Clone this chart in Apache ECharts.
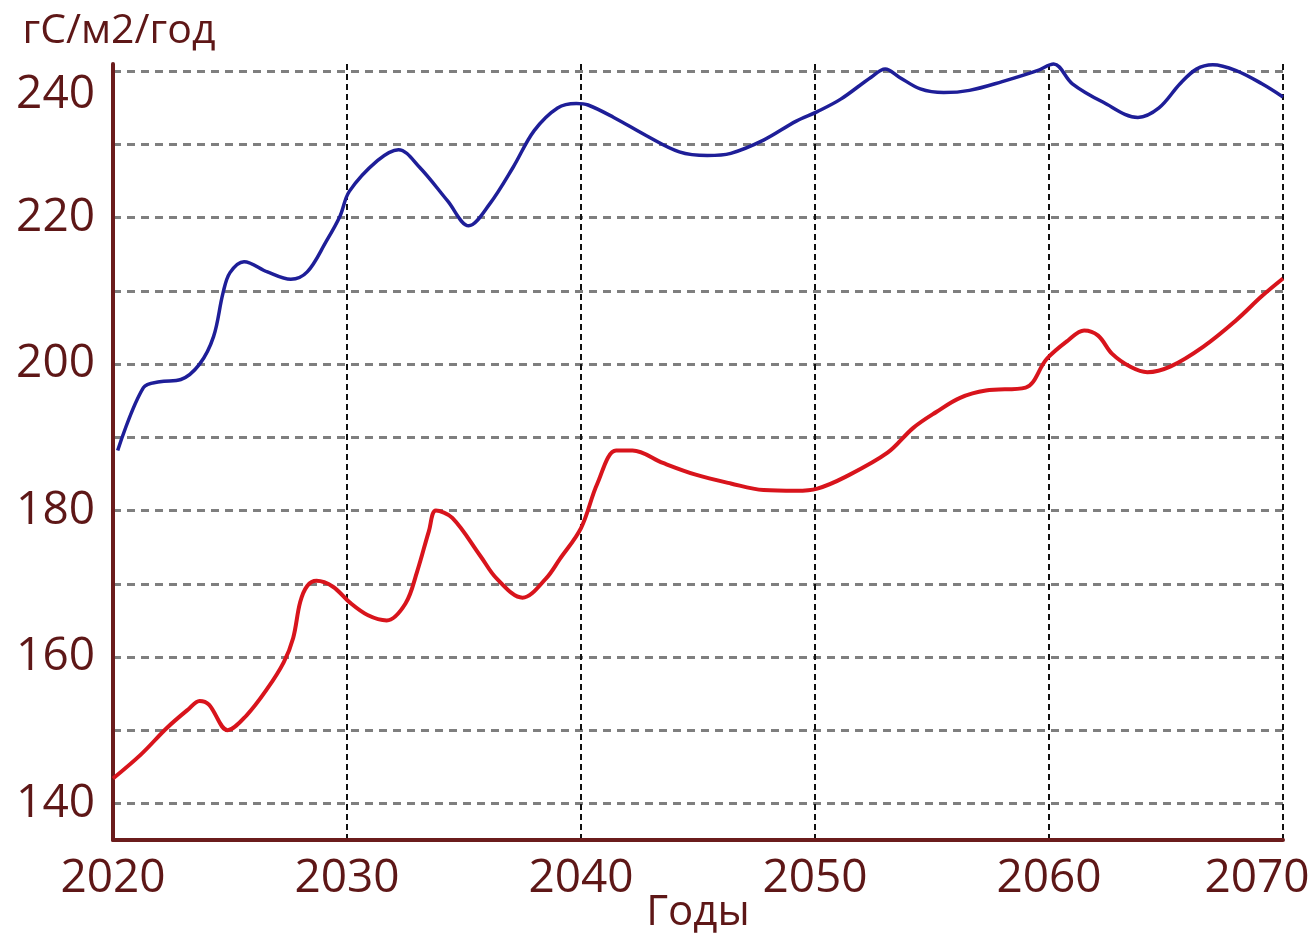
<!DOCTYPE html>
<html>
<head>
<meta charset="utf-8">
<script src="https://cdn.jsdelivr.net/npm/echarts@6/dist/echarts.min.js"></script>
<style>
  html, body { margin: 0; padding: 0; background: #ffffff; }
  #chart { width: 1316px; height: 941px; }
</style>
</head>
<body>
<div id="chart"></div>
<script>
// Annual productivity, gC/m2/year, two scenarios 2020–2070
const upperYears = [2020.2, 2021.3, 2022.0, 2022.9, 2023.7, 2024.3, 2024.7, 2025.0, 2025.6, 2026.6,
  2027.6, 2028.3, 2029.1, 2029.7, 2030.1, 2031.3, 2032.2, 2033.1, 2034.3, 2035.2,
  2036.1, 2037.1, 2038.0, 2039.0, 2039.8, 2040.3, 2041.4, 2042.8, 2044.2, 2045.4,
  2046.4, 2047.8, 2049.2, 2050.1, 2051.1, 2052.4, 2053.0, 2053.6, 2054.5, 2055.5,
  2056.6, 2058.0, 2059.5, 2060.2, 2061.0, 2062.3, 2063.8, 2064.7, 2065.6, 2066.3,
  2067.0, 2068.0, 2069.1, 2070.0];
const upperValues = [188.2, 196.8, 197.6, 197.9, 200.0, 203.8, 209.7, 212.5, 214.0, 212.6,
  211.6, 212.6, 216.7, 220.2, 223.6, 227.8, 229.3, 226.9, 222.3, 218.9,
  221.9, 226.9, 231.9, 235.0, 235.6, 235.4, 233.7, 231.2, 229.0, 228.5,
  228.8, 230.6, 233.2, 234.5, 236.2, 239.2, 240.3, 239.2, 237.6, 237.1,
  237.4, 238.6, 240.1, 241.0, 238.3, 235.8, 233.7, 235.0, 238.3, 240.3,
  240.9, 240.1, 238.3, 236.5];

const lowerYears = [2020.0, 2021.2, 2022.3, 2023.2, 2023.7, 2024.1, 2024.9, 2025.7, 2026.6, 2027.3,
  2027.7, 2028.0, 2028.3, 2028.7, 2029.4, 2030.1, 2030.9, 2031.7, 2032.5, 2033.0,
  2033.5, 2033.8, 2034.5, 2035.7, 2036.4, 2037.5, 2038.5, 2039.1, 2040.0, 2040.7,
  2041.5, 2042.2, 2043.5, 2044.9, 2046.4, 2047.8, 2049.2, 2050.1, 2051.3, 2053.1,
  2054.2, 2055.2, 2056.2, 2057.3, 2059.0, 2059.9, 2060.8, 2061.5, 2062.1, 2062.7,
  2063.5, 2064.2, 2065.2, 2066.6, 2068.0, 2069.1, 2070.0];
const lowerValues = [143.4, 146.7, 150.3, 152.8, 154.0, 153.5, 150.0, 152.0, 155.7, 159.3,
  162.6, 167.5, 169.7, 170.4, 169.6, 167.5, 165.7, 165.0, 167.3, 171.7,
  177.2, 180.0, 179.0, 173.8, 170.7, 168.1, 170.7, 173.4, 177.6, 183.7,
  188.2, 188.2, 186.5, 184.9, 183.7, 182.8, 182.7, 183.0, 184.6, 187.9,
  191.3, 193.5, 195.4, 196.4, 196.8, 200.7, 203.2, 204.6, 203.9, 201.4,
  199.6, 198.9, 199.7, 202.4, 206.0, 209.3, 211.7];

const yearTicks = [2020, 2030, 2040, 2050, 2060, 2070];
const valueGridLines = [140, 150, 160, 170, 180, 190, 200, 210, 220, 230, 240];
const valueLabels = [140, 160, 180, 200, 220, 240];

const pairs = (xs, ys) => xs.map((x, i) => [x, ys[i]]);

const axisColor = '#6b1c1c';
const textColor = '#5e1717';
const fontFamily = '"Open Sans", "DejaVu Sans", sans-serif';

const chart = echarts.init(document.getElementById('chart'), null, { renderer: 'canvas' });

chart.setOption({
  backgroundColor: '#ffffff',
  animation: false,
  grid: { left: 113, right: 33, top: 64, bottom: 101, containLabel: false, outerBoundsMode: 'none' },
  xAxis: {
    type: 'value',
    min: yearTicks[0],
    max: yearTicks[yearTicks.length - 1],
    interval: 10,
    name: 'Годы',
    nameLocation: 'middle',
    nameGap: 52,
    nameMoveOverlap: false,
    nameTextStyle: { color: textColor, fontSize: 42, fontFamily: fontFamily },
    axisLine: { show: true, onZero: false, lineStyle: { color: axisColor, width: 4 } },
    axisTick: { show: false },
    axisLabel: {
      color: textColor, fontSize: 46, fontFamily: fontFamily, margin: 16,
      formatter: v => (v === 2070 ? '{last|' + v + '}' : String(v)),
      rich: { last: { color: textColor, fontSize: 46, fontFamily: fontFamily, padding: [0, 52, 0, 0] } }
    },
    splitLine: { show: true, lineStyle: { color: '#111111', width: 2, type: [6, 4] } }
  },
  yAxis: {
    type: 'value',
    min: 135,
    max: 241,
    name: 'гС/м2/год',
    nameLocation: 'end',
    nameGap: 12,
    nameTextStyle: { color: textColor, fontSize: 41, fontFamily: fontFamily, align: 'center', padding: [0, 0, 0, 12] },
    axisLine: { show: true, onZero: false, lineStyle: { color: axisColor, width: 4 } },
    axisTick: { show: false, customValues: valueGridLines },
    axisLabel: {
      customValues: valueLabels,
      color: textColor, fontSize: 46, fontFamily: fontFamily, margin: 18,
      formatter: v => (v === 240 ? '{top|' + v + '}' : String(v)),
      rich: { top: { color: textColor, fontSize: 46, fontFamily: fontFamily, padding: [48, 0, 0, 0] } }
    },
    splitLine: { show: true, lineStyle: { color: '#7f7f7f', width: 3, type: [8, 6] } }
  },
  series: [
    {
      type: 'line',
      data: pairs(upperYears, upperValues),
      smooth: 0.35,
      showSymbol: false,
      clip: false,
      lineStyle: { color: '#1e1e98', width: 3.5 },
      z: 3
    },
    {
      type: 'line',
      data: pairs(lowerYears, lowerValues),
      smooth: 0.35,
      showSymbol: false,
      clip: false,
      lineStyle: { color: '#d8141c', width: 4 },
      z: 3
    }
  ]
});
</script>
</body>
</html>
